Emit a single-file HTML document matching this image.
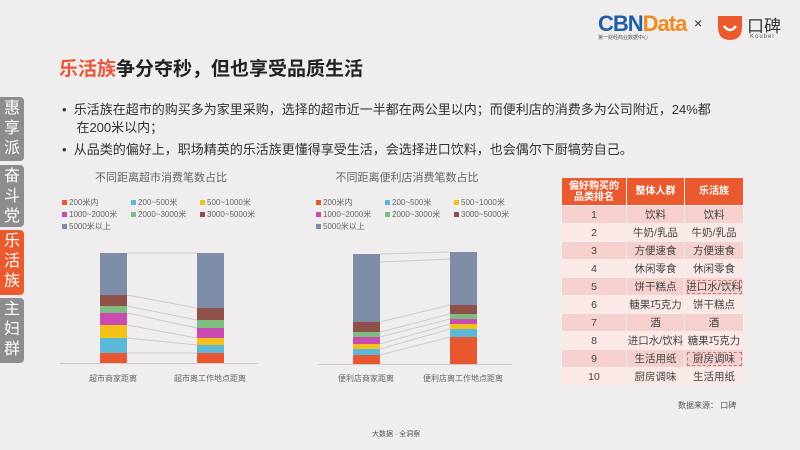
<!DOCTYPE html>
<html><head><meta charset="utf-8"><style>
*{margin:0;padding:0;box-sizing:border-box}
body{width:800px;height:450px;background:#efedee;position:relative;overflow:hidden;font-family:"Liberation Sans","Noto Sans CJK SC",sans-serif;color:#333}
.a{position:absolute;white-space:nowrap}
.tab{position:absolute;left:0;width:24px;background:#8d8d8f;color:#fff;font-size:16px;line-height:20px;text-align:center;border-radius:0 4px 4px 0;padding-top:2px}
table{position:absolute;left:561px;top:177px;border-collapse:collapse;font-size:10.5px;color:#444}
td{height:18px;text-align:center;border:1px solid #f6eeee;padding:0}
th{background:#ea5a2e;color:#fff;font-size:10px;height:28px;border:1px solid #f6eeee;line-height:11px}
tr.o td{background:#f5d0cd}tr.e td{background:#fbe9e8}
.dot{outline:1px dashed #c07a70;outline-offset:-3px}
</style></head><body>
<div class="a" style="left:598px;top:11px;font-size:22px;font-weight:bold;letter-spacing:-1px"><span style="color:#1f5fa9">CBN</span><span style="color:#f08a1e">Data</span></div>
<div class="a" style="left:598px;top:34px;font-size:5px;color:#555">第一财经商业数据中心</div>
<div class="a" style="left:694px;top:15px;font-size:14px;color:#333">×</div>
<svg class="a" style="left:715px;top:13px" width="30" height="30"><path d="M3 3 H27 V14 Q27 27 15 27 Q3 27 3 14Z" fill="#ea5a2e"/><path d="M9 13 Q15 21 21 13" stroke="#fff" stroke-width="2.5" fill="none"/></svg>
<div class="a" style="left:747px;top:12px;font-size:17px;color:#333">口碑</div>
<div class="a" style="left:750px;top:34px;font-size:6px;color:#555;letter-spacing:1px">Koubei</div>
<div class="a" style="left:59px;top:54px;font-size:19px;font-weight:bold;color:#222"><span style="color:#e8573a">乐活族</span>争分夺秒，但也享受品质生活</div>
<div class="a" style="left:62px;top:101px;font-size:13px;line-height:18px;color:#333">•&nbsp; 乐活族在超市的购买多为家里采购，选择的超市近一半都在两公里以内；而便利店的消费多为公司附近，24%都<br>&nbsp;&nbsp;&nbsp; 在200米以内；</div>
<div class="a" style="left:62px;top:139px;font-size:13px;color:#333">•&nbsp; 从品类的偏好上，职场精英的乐活族更懂得享受生活，会选择进口饮料，也会偶尔下厨犒劳自己。</div>
<div class="tab" style="top:97px;height:64px">惠<br>享<br>派</div>
<div class="tab" style="top:165px;height:62px">奋<br>斗<br>党</div>
<div class="tab" style="top:230px;height:65px;background:#ea5a2e">乐<br>活<br>族</div>
<div class="tab" style="top:298px;height:65px">主<br>妇<br>群</div>
<svg class="a" style="left:0;top:0" width="800" height="450" font-family="Liberation Sans,Noto Sans CJK SC,sans-serif">
<g font-size="11" fill="#666" text-anchor="middle"><text x="161" y="181">不同距离超市消费笔数占比</text><text x="407" y="181">不同距离便利店消费笔数占比</text></g>
<g font-size="8" fill="#666">
<g id="lg">
<rect x="62" y="200" width="5" height="5" fill="#e8572f"/><text x="69" y="205">200米内</text>
<rect x="131" y="200" width="5" height="5" fill="#5bb8d8"/><text x="138" y="205">200~500米</text>
<rect x="200" y="200" width="5" height="5" fill="#f4c01a"/><text x="207" y="205">500~1000米</text>
<rect x="62" y="212" width="5" height="5" fill="#c94ab0"/><text x="69" y="217">1000~2000米</text>
<rect x="131" y="212" width="5" height="5" fill="#7cbd80"/><text x="138" y="217">2000~3000米</text>
<rect x="200" y="212" width="5" height="5" fill="#8e5049"/><text x="207" y="217">3000~5000米</text>
<rect x="62" y="224" width="5" height="5" fill="#7f8ca8"/><text x="69" y="229">5000米以上</text>
</g>
<use href="#lg" x="254"/>
</g>
<g stroke="#ccc" stroke-width="1"><line x1="60" y1="363.5" x2="258" y2="363.5"/><line x1="318" y1="364.5" x2="512" y2="364.5"/>
<polyline points="127,253 197,253" fill="none"/><line x1="127" y1="295" x2="197" y2="308"/><line x1="127" y1="306" x2="197" y2="320"/><line x1="127" y1="313" x2="197" y2="328"/><line x1="127" y1="325" x2="197" y2="338"/><line x1="127" y1="338" x2="197" y2="345"/><line x1="127" y1="353" x2="197" y2="353"/>
<g transform="translate(0,160)">
<line x1="380" y1="94" x2="450" y2="92"/><line x1="380" y1="102" x2="450" y2="99"/><line x1="380" y1="162" x2="450" y2="145"/><line x1="380" y1="172" x2="450" y2="154"/><line x1="380" y1="177" x2="450" y2="159"/><line x1="380" y1="184" x2="450" y2="164"/><line x1="380" y1="189" x2="450" y2="169"/><line x1="380" y1="195" x2="450" y2="177"/>
</g>
</g>
<g>
<rect x="100" y="253" width="27" height="42" fill="#7f8ca8"/><rect x="100" y="295" width="27" height="11" fill="#8e5049"/><rect x="100" y="306" width="27" height="7" fill="#7cbd80"/><rect x="100" y="313" width="27" height="12" fill="#c94ab0"/><rect x="100" y="325" width="27" height="13" fill="#f4c01a"/><rect x="100" y="338" width="27" height="15" fill="#5bb8d8"/><rect x="100" y="353" width="27" height="10" fill="#e8572f"/>
<rect x="197" y="253" width="27" height="55" fill="#7f8ca8"/><rect x="197" y="308" width="27" height="12" fill="#8e5049"/><rect x="197" y="320" width="27" height="8" fill="#7cbd80"/><rect x="197" y="328" width="27" height="10" fill="#c94ab0"/><rect x="197" y="338" width="27" height="7" fill="#f4c01a"/><rect x="197" y="345" width="27" height="8" fill="#5bb8d8"/><rect x="197" y="353" width="27" height="10" fill="#e8572f"/>
<g transform="translate(0,160)">
<rect x="353" y="94" width="27" height="68" fill="#7f8ca8"/><rect x="353" y="162" width="27" height="10" fill="#8e5049"/><rect x="353" y="172" width="27" height="5" fill="#7cbd80"/><rect x="353" y="177" width="27" height="7" fill="#c94ab0"/><rect x="353" y="184" width="27" height="5" fill="#f4c01a"/><rect x="353" y="189" width="27" height="6" fill="#5bb8d8"/><rect x="353" y="195" width="27" height="9" fill="#e8572f"/>
<rect x="450" y="92" width="27" height="53" fill="#7f8ca8"/><rect x="450" y="145" width="27" height="9" fill="#8e5049"/><rect x="450" y="154" width="27" height="5" fill="#7cbd80"/><rect x="450" y="159" width="27" height="5" fill="#c94ab0"/><rect x="450" y="164" width="27" height="5" fill="#f4c01a"/><rect x="450" y="169" width="27" height="8" fill="#5bb8d8"/><rect x="450" y="177" width="27" height="27" fill="#e8572f"/>
</g>
</g>
<g font-size="8" fill="#666" text-anchor="middle"><text x="113" y="381">超市商家距离</text><text x="210" y="381">超市离工作地点距离</text><text x="366" y="381">便利店商家距离</text><text x="463" y="381">便利店离工作地点距离</text></g>
</svg>
<table>
<tr><th style="width:65px">偏好购买的<br>品类排名</th><th style="width:58px">整体人群</th><th style="width:59px">乐活族</th></tr>
<tr class="o"><td>1</td><td>饮料</td><td>饮料</td></tr>
<tr class="e"><td>2</td><td>牛奶/乳品</td><td>牛奶/乳品</td></tr>
<tr class="o"><td>3</td><td>方便速食</td><td>方便速食</td></tr>
<tr class="e"><td>4</td><td>休闲零食</td><td>休闲零食</td></tr>
<tr class="o"><td>5</td><td>饼干糕点</td><td class="dot">进口水/饮料</td></tr>
<tr class="e"><td>6</td><td>糖果巧克力</td><td>饼干糕点</td></tr>
<tr class="o"><td>7</td><td>酒</td><td>酒</td></tr>
<tr class="e"><td>8</td><td>进口水/饮料</td><td>糖果巧克力</td></tr>
<tr class="o"><td>9</td><td>生活用纸</td><td class="dot">厨房调味</td></tr>
<tr class="e"><td>10</td><td>厨房调味</td><td>生活用纸</td></tr>
</table>
<div class="a" style="left:678px;top:400px;font-size:8px;color:#555">数据来源： 口碑</div>
<div class="a" style="left:372px;top:429px;font-size:7px;color:#555">大数据 · 全洞察</div>
</body></html>
